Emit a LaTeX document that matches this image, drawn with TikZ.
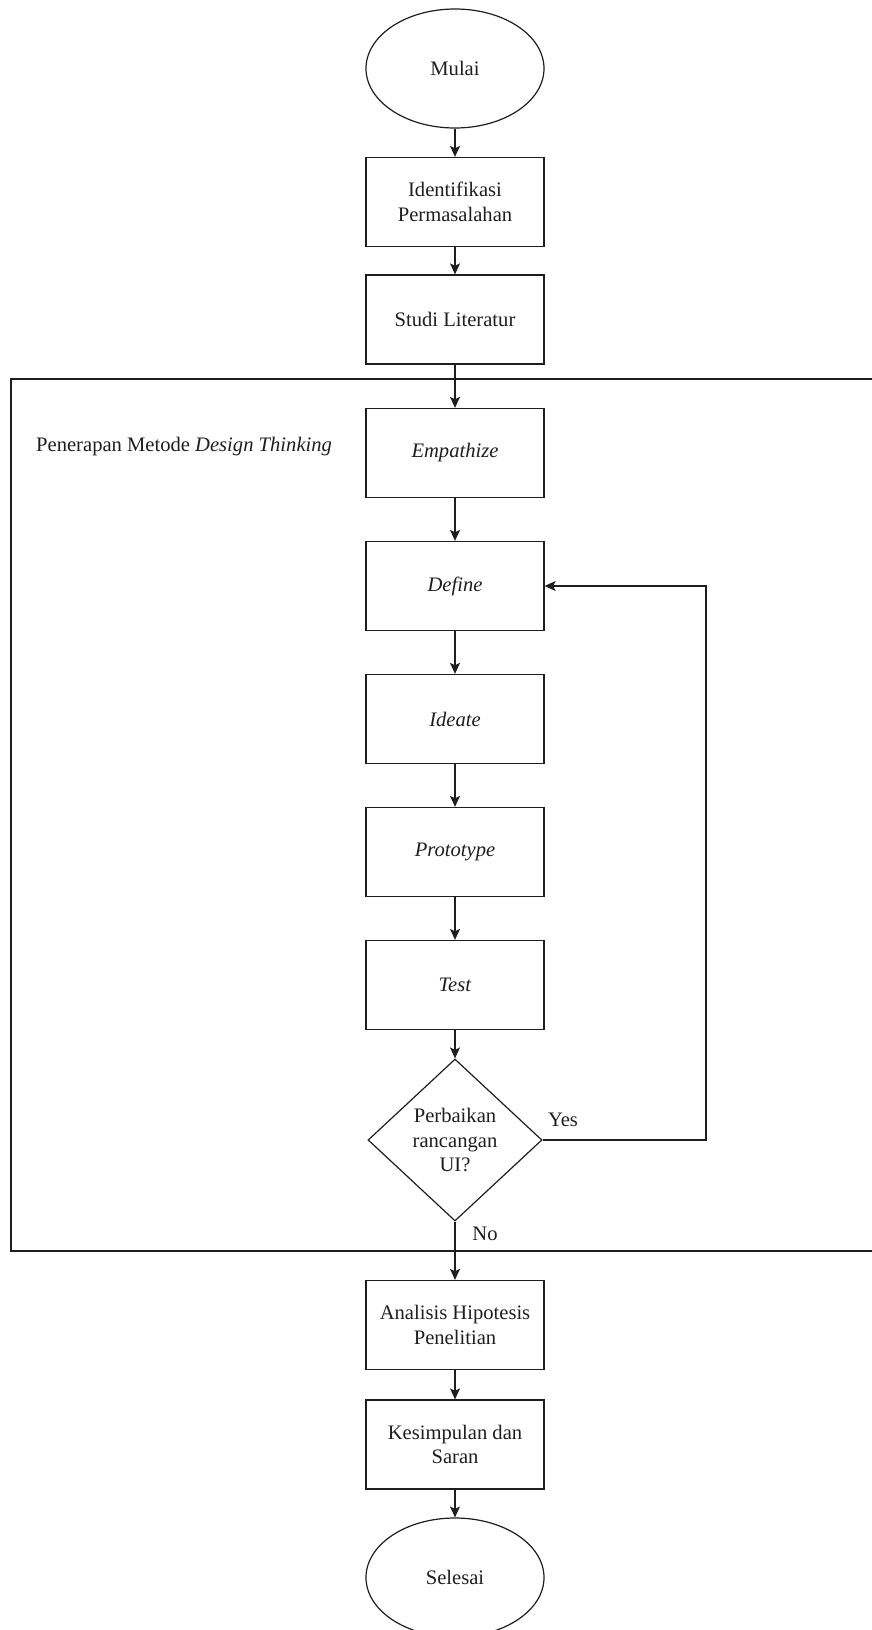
\documentclass[tikz,border=0pt]{standalone}
\usepackage{fontspec}
\setmainfont{Liberation Serif}
\usetikzlibrary{shapes.geometric,arrows.meta}
\definecolor{lc}{RGB}{30,30,30}
\tikzset{
  x=1pt,y=-1pt,
  every node/.style={font=\fontsize{20.6}{24.5}\selectfont, text=lc},
  stepbox/.style={draw=lc, line width=1.3pt, minimum width=178pt, minimum height=89pt, align=center, inner sep=2pt},
  terminal/.style={draw=lc, line width=1.2pt, ellipse, minimum width=178pt, minimum height=119pt, inner sep=0pt},
  decision/.style={draw=lc, line width=1.2pt, diamond, minimum width=174pt, minimum height=162pt, inner sep=0pt, align=center},
  arr/.style={draw=lc, line width=1.1pt, -{Stealth[length=11pt,width=10pt,inset=2.5pt]}},
  framebox/.style={draw=lc, line width=1.3pt},
  lbl/.style={inner sep=0pt}
}
\begin{document}
\begin{tikzpicture}
\useasboundingbox (0,0) rectangle (872,1630);
% frame
\draw[framebox] (885,379) -- (11,379) -- (11,1251) -- (885,1251);
\node[lbl, anchor=west] (frametitle) at (36,447) {Penerapan Metode \textit{Design Thinking}};

\node[terminal] (mulai) at (455,68.5) {Mulai};
\node[stepbox] (iden) at (455,202) {Identifikasi\\Permasalahan};
\node[stepbox] (studi) at (455,319.5) {Studi Literatur};
\node[stepbox] (emp) at (455,453) {\textit{Empathize}};
\node[stepbox] (def) at (455,586) {\textit{Define}};
\node[stepbox] (ide) at (455,719) {\textit{Ideate}};
\node[stepbox] (pro) at (455,852) {\textit{Prototype}};
\node[stepbox] (test) at (455,985) {\textit{Test}};
\node[decision] (dec) at (455,1140) {Perbaikan\\rancangan\\UI?};
\node[stepbox] (ana) at (455,1325) {Analisis Hipotesis\\Penelitian};
\node[stepbox] (kes) at (455,1444.5) {Kesimpulan dan\\Saran};
\node[terminal] (sel) at (455,1577.5) {Selesai};

\coordinate (loopc) at (706,1140);

\draw[arr] (mulai) -- (iden);
\draw[arr] (iden) -- (studi);
\draw[arr] (studi) -- (emp);
\draw[arr] (emp) -- (def);
\draw[arr] (def) -- (ide);
\draw[arr] (ide) -- (pro);
\draw[arr] (pro) -- (test);
\draw[arr] (test) -- (dec);
\draw[arr] (dec.east) -- (loopc) |- (def.east);
\draw[arr] (dec.south) -- (ana.north);
\draw[arr] (ana) -- (kes);
\draw[arr] (kes) -- (sel);

\node[lbl] (yes) at (563,1120) {Yes};
\node[lbl] (no) at (485,1234) {No};
\end{tikzpicture}
\end{document}
